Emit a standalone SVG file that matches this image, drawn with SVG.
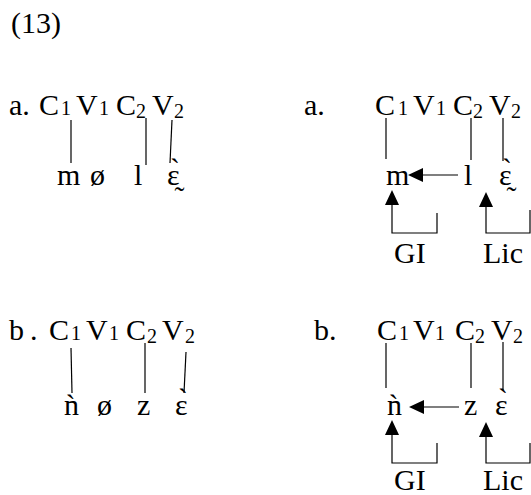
<svg xmlns="http://www.w3.org/2000/svg" width="531" height="495" viewBox="0 0 531 495">
<style>
text{font-family:"Liberation Serif","Times New Roman",serif;fill:#000}
.t{font-size:30px}
.s{font-size:20px}
.ln{stroke:#000;stroke-width:1.2;fill:none}
</style>
<defs>
<marker id="tri" markerUnits="userSpaceOnUse" markerWidth="15" markerHeight="14" refX="0" refY="7" orient="auto" viewBox="0 0 15 14">
<path d="M0,0 L15,7 L0,14 z" fill="#000"/>
</marker>
</defs>
<rect width="531" height="495" fill="#fff"/>
<g id="label-13"><text class="t" x="11" y="33">(13)</text></g>

<g id="a-left-skeleton">
<text class="t" x="9" y="115">a.</text>
<text class="t" x="39" y="115">C</text><text class="s" x="61" y="115">1</text>
<text class="t" x="76" y="115">V</text><text class="s" x="99" y="115">1</text>
<text class="t" x="116" y="115">C</text><text class="s" x="136" y="118">2</text>
<text class="t" x="152" y="115">V</text><text class="s" x="174" y="118">2</text>
</g>
<g id="a-left-melody">
<text class="t" x="57" y="185">m</text>
<text class="t" x="90" y="185">ø</text>
<text class="t" x="134" y="185">l</text>
<text class="t" x="167" y="185">ɛ̰̀</text>
</g>

<g id="a-right-skeleton">
<text class="t" x="304" y="115">a.</text>
<text class="t" x="375" y="115">C</text><text class="s" x="398" y="115">1</text>
<text class="t" x="413" y="115">V</text><text class="s" x="436" y="115">1</text>
<text class="t" x="453" y="115">C</text><text class="s" x="473" y="118">2</text>
<text class="t" x="489" y="115">V</text><text class="s" x="511" y="118">2</text>
</g>
<g id="a-right-melody">
<text class="t" x="386" y="185">m</text>
<text class="t" x="464" y="185">l</text>
<text class="t" x="499" y="185">ɛ̰̀</text>
</g>
<g id="a-right-GI"><text class="t" x="394" y="263">GI</text></g>
<g id="a-right-Lic"><text class="t" x="483" y="263">Lic</text></g>

<g id="b-left-skeleton">
<text class="t" x="9" y="340">b</text>
<text class="t" x="30" y="340">.</text>
<text class="t" x="49" y="340">C</text><text class="s" x="71" y="340">1</text>
<text class="t" x="86" y="340">V</text><text class="s" x="109" y="340">1</text>
<text class="t" x="126" y="340">C</text><text class="s" x="147" y="343">2</text>
<text class="t" x="162" y="340">V</text><text class="s" x="185" y="343">2</text>
</g>
<g id="b-left-melody">
<text class="t" x="64" y="415">ǹ</text>
<text class="t" x="97" y="415">ø</text>
<text class="t" x="137" y="415">z</text>
<text class="t" x="175" y="415">ɛ̀</text>
</g>

<g id="b-right-skeleton">
<text class="t" x="314" y="340">b.</text>
<text class="t" x="377" y="340">C</text><text class="s" x="399" y="340">1</text>
<text class="t" x="413" y="340">V</text><text class="s" x="435" y="340">1</text>
<text class="t" x="455" y="340">C</text><text class="s" x="475" y="343">2</text>
<text class="t" x="491" y="340">V</text><text class="s" x="513" y="343">2</text>
</g>
<g id="b-right-melody">
<text class="t" x="387" y="415">ǹ</text>
<text class="t" x="464" y="415">z</text>
<text class="t" x="495" y="415">ɛ̀</text>
</g>
<g id="b-right-GI"><text class="t" x="394" y="490">GI</text></g>
<g id="b-right-Lic"><text class="t" x="483" y="490">Lic</text></g>

<g id="connectors">
<line class="ln" x1="71" y1="120" x2="71" y2="163"/>
<line class="ln" x1="146" y1="118" x2="146" y2="165"/>
<line class="ln" x1="172" y1="120" x2="170" y2="163"/>
<line class="ln" x1="386" y1="118" x2="386" y2="159"/>
<line class="ln" x1="471" y1="118" x2="471" y2="160"/>
<line class="ln" x1="503" y1="118" x2="503" y2="161"/>
<line class="ln" x1="458" y1="175" x2="423" y2="175" marker-end="url(#tri)"/>
<path class="ln" d="M437,213 V233 H392 V205" marker-end="url(#tri)"/>
<path class="ln" d="M530,210 V233 H486 V207" marker-end="url(#tri)"/>
<line class="ln" x1="71" y1="348" x2="72" y2="393"/>
<line class="ln" x1="145" y1="343" x2="145" y2="393"/>
<line class="ln" x1="186" y1="352" x2="184" y2="393"/>
<line class="ln" x1="386" y1="343" x2="386" y2="388"/>
<line class="ln" x1="471" y1="343" x2="471" y2="388"/>
<line class="ln" x1="503" y1="342" x2="503" y2="390"/>
<line class="ln" x1="459" y1="407" x2="424" y2="407" marker-end="url(#tri)"/>
<path class="ln" d="M437,443 V463 H392 V435" marker-end="url(#tri)"/>
<path class="ln" d="M530,443 V463 H486 V437" marker-end="url(#tri)"/>
</g>
</svg>
